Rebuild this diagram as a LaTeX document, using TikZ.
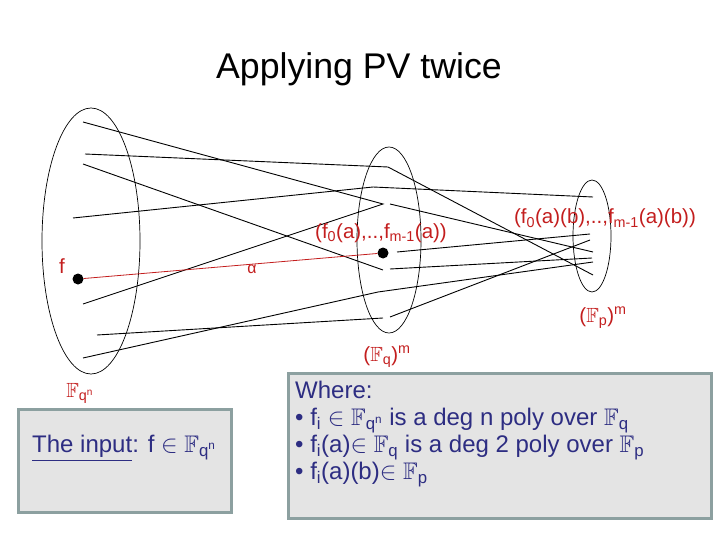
\documentclass[tikz,border=0pt]{standalone}
\usepackage{amsmath,amssymb}
\usepackage{fontspec}
\setmainfont{Liberation Sans}
\usepackage{tikz}
\usetikzlibrary{positioning,shapes.geometric}
\definecolor{labred}{RGB}{195,30,30}
\definecolor{boxblue}{RGB}{45,45,130}
\definecolor{boxedge}{RGB}{140,160,160}
\definecolor{boxfill}{RGB}{228,228,228}
\newcommand{\Fbb}{\ensuremath{\mathbb{F}}}

\begin{document}
\begin{tikzpicture}[x=1pt,y=-1pt,
  wire/.style={black,line width=0.9pt},
  rim/.style={draw=black,line width=0.7pt,ellipse,inner sep=0pt},
  lab/.style={labred,font=\fontsize{20.5}{24}\selectfont,inner sep=0pt,anchor=base},
  dotpt/.style={circle,fill=black,inner sep=0pt,minimum size=11pt},
  infobox/.style={draw=boxedge,line width=2.5pt,fill=boxfill,inner sep=0pt,anchor=north west},
  boxtext/.style={text=boxblue,font=\fontsize{24}{27}\selectfont,inner sep=0pt,align=left,anchor=north west}]
\useasboundingbox (0,0) rectangle (720,540);
\node[anchor=base,font=\fontsize{35.7}{40}\selectfont,inner sep=0pt] (title) at (359,79) {Applying PV twice};
% Sets
\node[rim,minimum width=98pt,minimum height=266pt] (fqn) at (91,241) {};
\node[rim,minimum width=64pt,minimum height=186pt] (fqm) at (389,240) {};
\node[rim,minimum width=38pt,minimum height=112pt] (fpm) at (592,236) {};
% End points of the maps
\coordinate (s1) at (83,122);
\coordinate (s2) at (85,154);
\coordinate (s3) at (83,164);
\coordinate (s4) at (73,218);
\coordinate (s5) at (83,304);
\coordinate (s6) at (97,335);
\coordinate (s7) at (83,358);
\coordinate (m1) at (388,167);
\coordinate (m2) at (373,187);
\coordinate (m3) at (383,204);
\coordinate (m3o) at (390,204);
\coordinate (m4) at (383,270);
\coordinate (m4o) at (390,269);
\coordinate (m5) at (383,318);
\coordinate (m5o) at (390,317);
\coordinate (m6) at (378,292);
\coordinate (ao) at (397,252);
\coordinate (t1) at (593,275);
\coordinate (t2) at (593,197);
\coordinate (t3) at (593,252);
\coordinate (t4) at (590,234);
\coordinate (t5) at (592,258);
\coordinate (t6) at (590,240);
\coordinate (t7) at (593,262);
\draw[wire] (s1) -- (m3) -- (s5);
\draw[wire] (s2) -- (m1) -- (t1);
\draw[wire] (s3) -- (m4);
\draw[wire] (s4) -- (m2) -- (t2);
\draw[wire] (s6) -- (m5);
\draw[wire] (s7) -- (m6) -- (t7);
\draw[wire] (m3o) -- (t3);
\draw[wire] (m4o) -- (t5);
\draw[wire] (m5o) -- (t6);
\draw[wire] (ao) -- (t4);
% The point f and its image
\node[dotpt] (fdot) at (78,279) {};
\node[dotpt] (adot) at (383,253) {};
\draw[labred,line width=0.8pt] (fdot) -- (adot);
\node[lab] (flab) at (62,273) {f};
\node[lab,font=\fontsize{16}{18}\selectfont] (alab) at (252,273) {α};
\node[lab] (img1) at (381,238) {(f\textsubscript{0}(a),..,f\textsubscript{m-1}(a))};
\node[lab] (img2) at (605,224) {(f\textsubscript{0}(a)(b),..,f\textsubscript{m-1}(a)(b))};
\node[lab] (fpmlab) at (603,322) {(\Fbb\textsubscript{p})\textsuperscript{m}};
\node[lab] (fqmlab) at (387,361) {(\Fbb\textsubscript{q})\textsuperscript{m}};
\node[lab] (fqnlab) at (80,397) {\Fbb\textsubscript{q\textsuperscript{n}}};
% Boxes
\node[infobox,minimum width=213pt,minimum height=103pt] (inbox) at (17,408) {};
\node[boxtext,anchor=base west] (input) at (32,452) {\underline{The input}: f $\in$ \Fbb\textsubscript{q\textsuperscript{n}}};
\node[infobox,minimum width=423pt,minimum height=145pt] (wbox) at (287,372) {};
\node[boxtext] (where) at (295,381) {Where:\\
  • f\textsubscript{i} $\in$ \Fbb\textsubscript{q\textsuperscript{n}} is a deg n poly over \Fbb\textsubscript{q}\\
  • f\textsubscript{i}(a)$\in$ \Fbb\textsubscript{q} is a deg 2 poly over \Fbb\textsubscript{p}\\
  • f\textsubscript{i}(a)(b)$\in$ \Fbb\textsubscript{p}};
\end{tikzpicture}
\end{document}
